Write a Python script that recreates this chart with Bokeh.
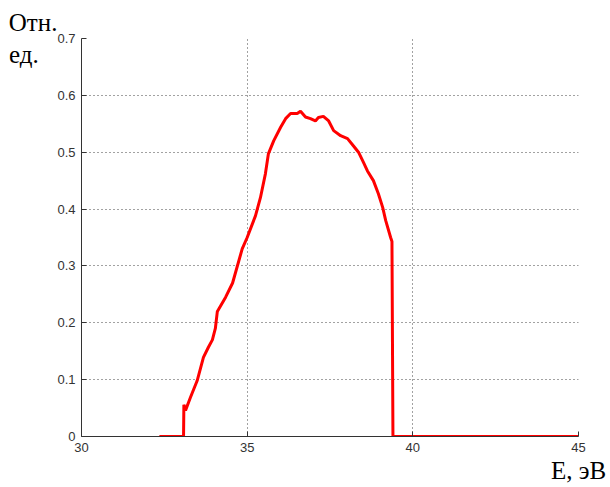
from bokeh.plotting import figure
from bokeh.models import Range1d, FixedTicker
from bokeh.embed import file_html
from bokeh.resources import INLINE

energy = [32.35, 33.08, 33.09, 33.14, 33.29, 33.49, 33.68, 33.83, 33.95, 34.04,
          34.10, 34.35, 34.56, 34.85, 35.00, 35.25, 35.40, 35.55, 35.64, 35.80,
          36.01, 36.16, 36.31, 36.51, 36.61, 36.76, 36.91, 37.06, 37.15, 37.30,
          37.46, 37.61, 37.82, 38.03, 38.21, 38.36, 38.51, 38.63, 38.81, 38.96,
          39.09, 39.18, 39.33, 39.37, 39.40, 45.0]
signal = [0.0, 0.0, 0.056, 0.046, 0.069, 0.098, 0.139, 0.157, 0.170, 0.190,
          0.220, 0.245, 0.270, 0.330, 0.350, 0.388, 0.420, 0.462, 0.497, 0.520,
          0.544, 0.559, 0.568, 0.568, 0.572, 0.562, 0.559, 0.555, 0.561, 0.563,
          0.555, 0.538, 0.529, 0.524, 0.511, 0.500, 0.482, 0.467, 0.450, 0.427,
          0.403, 0.380, 0.350, 0.343, 0.0, 0.0]

x_ticks = [30, 35, 40, 45]
y_ticks = [0, 0.1, 0.2, 0.3, 0.4, 0.5, 0.6, 0.7]
y_label_lines = ["Отн.", "ед."]
x_label = "E, эВ"

p = figure(width=610, height=487, output_backend="svg", toolbar_location=None,
           x_range=Range1d(30, 45), y_range=Range1d(0, 0.7),
           min_border_left=81, min_border_right=32, min_border_top=38, min_border_bottom=51)
p.outline_line_color = None
p.background_fill_color = "white"
p.border_fill_color = "white"

for ax in (p.xaxis[0], p.yaxis[0]):
    ax.axis_line_color = "#333333"
    ax.major_tick_line_color = "#333333"
    ax.major_tick_in = 5
    ax.major_tick_out = 0
    ax.minor_tick_line_color = None
    ax.major_label_text_font = "Liberation Sans"
    ax.major_label_text_font_size = "13px"
    ax.major_label_text_color = "#333333"
    ax.axis_label_text_font = "Liberation Serif"
    ax.axis_label_text_font_size = "25px"
    ax.axis_label_text_font_style = "normal"
    ax.axis_label_text_color = "black"
    ax.axis_label_align = "end"

p.xaxis[0].ticker = FixedTicker(ticks=x_ticks)
p.yaxis[0].ticker = FixedTicker(ticks=y_ticks)
p.yaxis[0].major_label_overrides = {0: "0"}
p.xaxis[0].major_label_standoff = 6
p.yaxis[0].major_label_standoff = 6

p.xaxis[0].axis_label = x_label
p.xaxis[0].axis_label_standoff = 2
# second line padded with no-break spaces so both lines start at the same left edge
p.yaxis[0].axis_label = y_label_lines[0] + "\n" + y_label_lines[1] + "\u00a0\u00a0\u00a0"
p.yaxis[0].axis_label_orientation = "horizontal"
p.yaxis[0].axis_label_standoff = -3

for g in (p.xgrid[0], p.ygrid[0]):
    g.grid_line_color = "#444444"
    g.grid_line_dash = "1 3"
    g.grid_line_width = 1
p.xgrid[0].ticker = FixedTicker(ticks=x_ticks)
p.ygrid[0].ticker = FixedTicker(ticks=y_ticks)

p.line(energy, signal, line_color="#ff0000", line_width=3)

open("out.html", "w").write(file_html(p, INLINE))
